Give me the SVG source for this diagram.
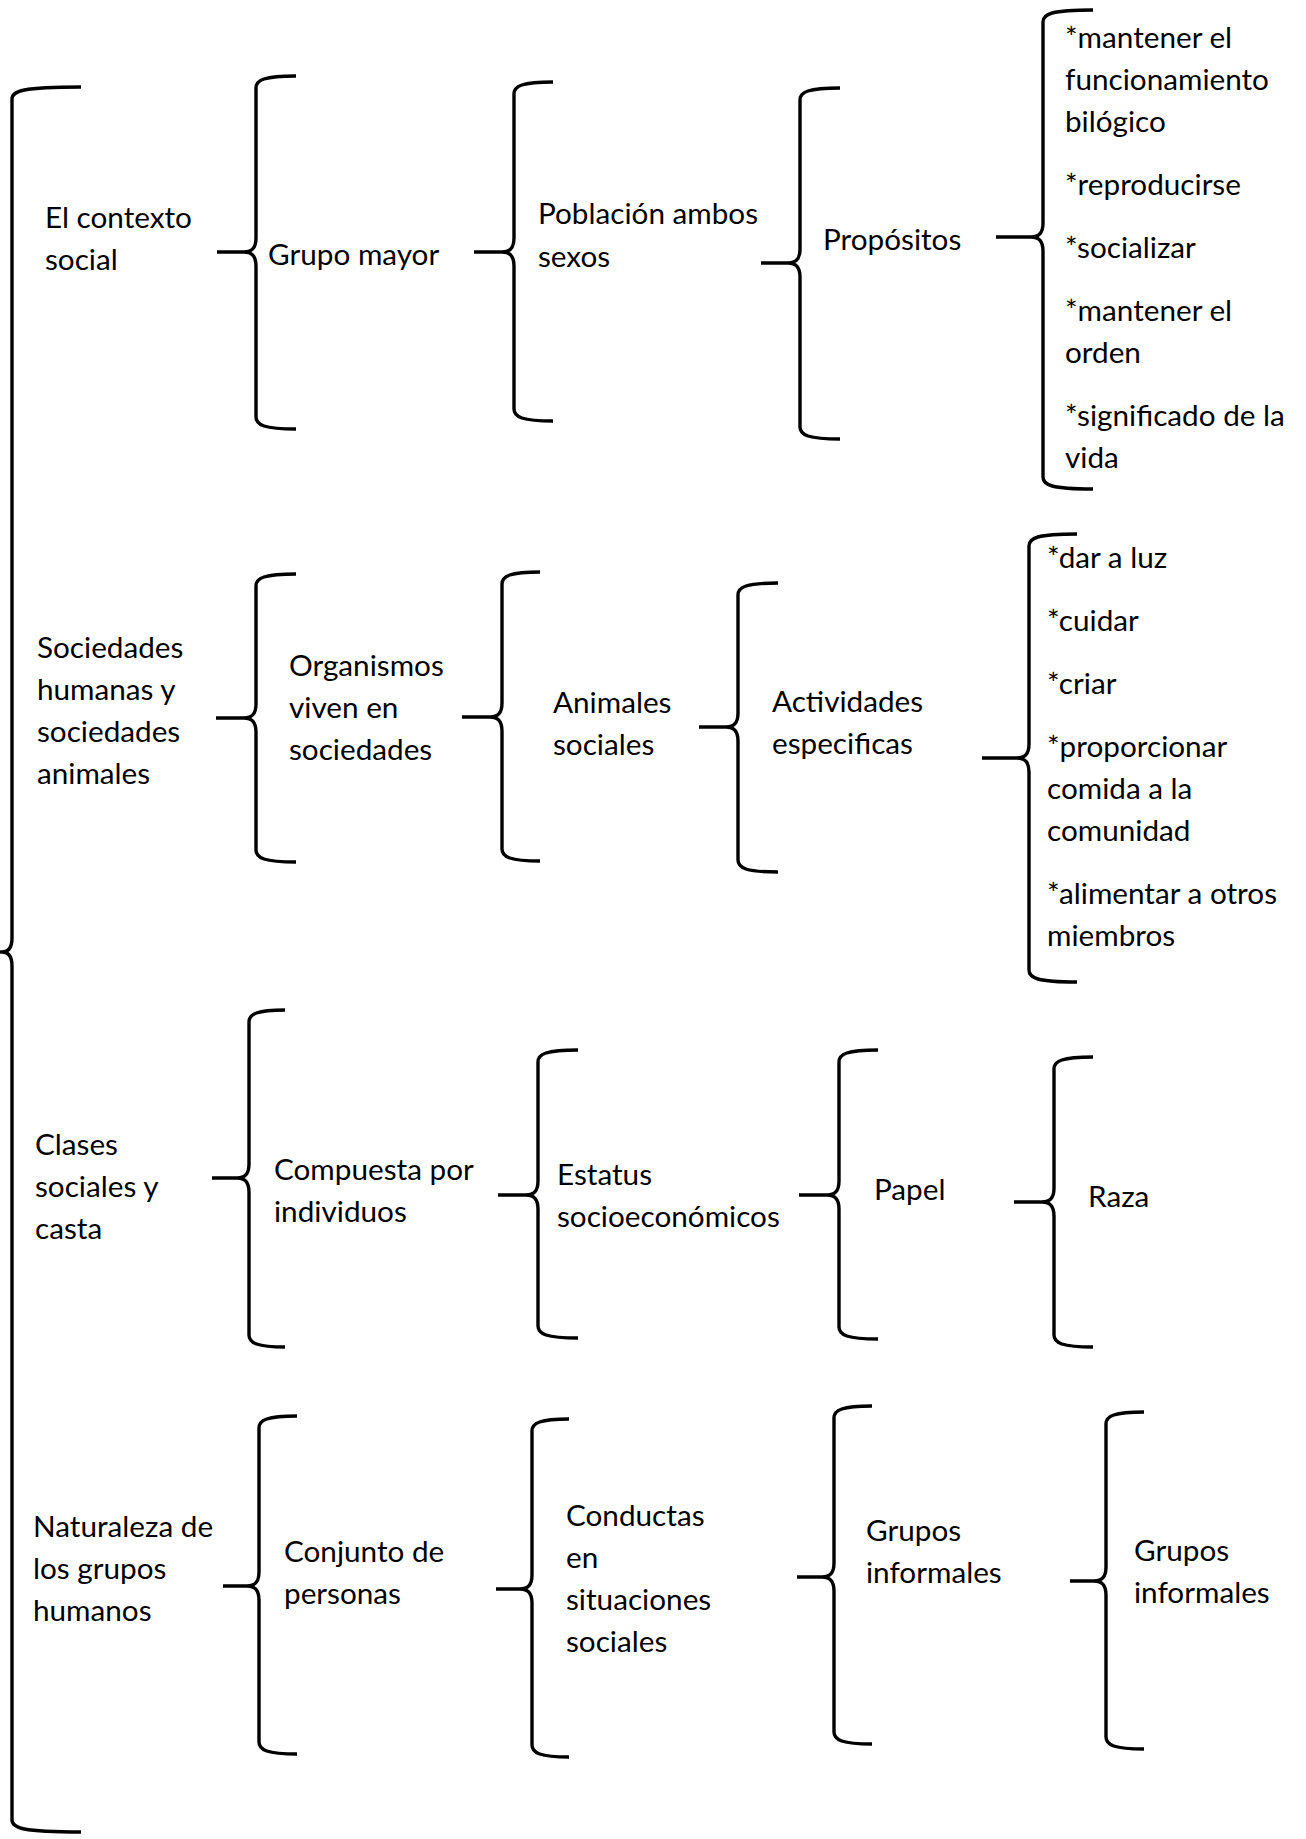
<svg xmlns="http://www.w3.org/2000/svg" width="1306" height="1839" viewBox="0 0 1306 1839">
<style>
  .br { fill: none; stroke: #000; stroke-width: 3.4; stroke-linecap: butt; stroke-linejoin: round; }
  text { font-family: Lato, "Liberation Sans", sans-serif; font-size: 29.7px; fill: #000; }
</style>
<rect width="1306" height="1839" fill="#fff"/>
<g id="connectors">
  <path class="br" d="M0,952 L2,952 C8,952 12,948 12,938 L12,99 C12,91 22,87 81,87 M2,952 C8,952 12,956 12,966 L12,1820 C12,1828 22,1832 81,1832"/>
  <path class="br" d="M217,252 L244,252 C252,252 256,248 256,238 L256,88 C256,80 264,76 296,76 M244,252 C252,252 256,256 256,266 L256,417 C256,425 264,429 296,429"/>
  <path class="br" d="M474,252 L502,252 C510,252 514,248 514,238 L514,94 C514,86 522,82 553,82 M502,252 C510,252 514,256 514,266 L514,409 C514,417 522,421 553,421"/>
  <path class="br" d="M761,263 L788,263 C796,263 800,259 800,249 L800,100 C800,92 808,88 840,88 M788,263 C796,263 800,267 800,277 L800,427 C800,435 808,439 840,439"/>
  <path class="br" d="M996,237 L1031,237 C1039,237 1043,233 1043,223 L1043,22 C1043,14 1051,10 1093,10 M1031,237 C1039,237 1043,241 1043,251 L1043,477 C1043,485 1051,489 1093,489"/>
  <path class="br" d="M216,718 L244,718 C252,718 256,714 256,704 L256,586 C256,578 264,574 296,574 M244,718 C252,718 256,722 256,732 L256,850 C256,858 264,862 296,862"/>
  <path class="br" d="M462,717 L490,717 C498,717 502,713 502,703 L502,584 C502,576 510,572 540,572 M490,717 C498,717 502,721 502,731 L502,849 C502,857 510,861 540,861"/>
  <path class="br" d="M699,727 L726,727 C734,727 738,723 738,713 L738,595 C738,587 746,583 778,583 M726,727 C734,727 738,731 738,741 L738,860 C738,868 746,872 778,872"/>
  <path class="br" d="M982,758 L1017,758 C1025,758 1029,754 1029,744 L1029,546 C1029,538 1037,534 1077,534 M1017,758 C1025,758 1029,762 1029,772 L1029,970 C1029,978 1037,982 1077,982"/>
  <path class="br" d="M212,1178 L237,1178 C245,1178 249,1174 249,1164 L249,1022 C249,1014 257,1010 285,1010 M237,1178 C245,1178 249,1182 249,1192 L249,1335 C249,1343 257,1347 285,1347"/>
  <path class="br" d="M498,1195 L526,1195 C534,1195 538,1191 538,1181 L538,1062 C538,1054 546,1050 578,1050 M526,1195 C534,1195 538,1199 538,1209 L538,1326 C538,1334 546,1338 578,1338"/>
  <path class="br" d="M799,1195 L827,1195 C835,1195 839,1191 839,1181 L839,1062 C839,1054 847,1050 878,1050 M827,1195 C835,1195 839,1199 839,1209 L839,1327 C839,1335 847,1339 878,1339"/>
  <path class="br" d="M1014,1202 L1042,1202 C1050,1202 1054,1198 1054,1188 L1054,1069 C1054,1061 1062,1057 1093,1057 M1042,1202 C1050,1202 1054,1206 1054,1216 L1054,1335 C1054,1343 1062,1347 1093,1347"/>
  <path class="br" d="M223,1586 L247,1586 C255,1586 259,1582 259,1572 L259,1428 C259,1420 267,1416 297,1416 M247,1586 C255,1586 259,1590 259,1600 L259,1742 C259,1750 267,1754 297,1754"/>
  <path class="br" d="M496,1589 L520,1589 C528,1589 532,1585 532,1575 L532,1431 C532,1423 540,1419 569,1419 M520,1589 C528,1589 532,1593 532,1603 L532,1745 C532,1753 540,1757 569,1757"/>
  <path class="br" d="M797,1577 L822,1577 C830,1577 834,1573 834,1563 L834,1418 C834,1410 842,1406 872,1406 M822,1577 C830,1577 834,1581 834,1591 L834,1732 C834,1740 842,1744 872,1744"/>
  <path class="br" d="M1070,1581 L1094,1581 C1102,1581 1106,1577 1106,1567 L1106,1424 C1106,1416 1114,1412 1144,1412 M1094,1581 C1102,1581 1106,1585 1106,1595 L1106,1737 C1106,1745 1114,1749 1144,1749"/>
</g>
<g id="n-contexto"><text x="45" y="228">El contexto</text><text x="45" y="270">social</text></g>
<g id="n-grupo-mayor"><text x="268" y="265">Grupo mayor</text></g>
<g id="n-poblacion"><text x="538" y="224">Población ambos</text><text x="538" y="267">sexos</text></g>
<g id="n-propositos"><text x="823" y="250">Propósitos</text></g>
<g id="n-propositos-lista">
  <text x="1065" y="48">*mantener el</text>
  <text x="1065" y="90">funcionamiento</text>
  <text x="1065" y="132">bilógico</text>
  <text x="1065" y="195">*reproducirse</text>
  <text x="1065" y="258">*socializar</text>
  <text x="1065" y="321">*mantener el</text>
  <text x="1065" y="363">orden</text>
  <text x="1065" y="426">*significado de la</text>
  <text x="1065" y="468">vida</text>
</g>
<g id="n-sociedades"><text x="37" y="658">Sociedades</text><text x="37" y="700">humanas y</text><text x="37" y="742">sociedades</text><text x="37" y="784">animales</text></g>
<g id="n-organismos"><text x="289" y="676">Organismos</text><text x="289" y="718">viven en</text><text x="289" y="760">sociedades</text></g>
<g id="n-animales"><text x="553" y="713">Animales</text><text x="553" y="755">sociales</text></g>
<g id="n-actividades"><text x="772" y="712">Actividades</text><text x="772" y="754">especificas</text></g>
<g id="n-actividades-lista">
  <text x="1047" y="568">*dar a luz</text>
  <text x="1047" y="631">*cuidar</text>
  <text x="1047" y="694">*criar</text>
  <text x="1047" y="757">*proporcionar</text>
  <text x="1047" y="799">comida a la</text>
  <text x="1047" y="841">comunidad</text>
  <text x="1047" y="904">*alimentar a otros</text>
  <text x="1047" y="946">miembros</text>
</g>
<g id="n-clases"><text x="35" y="1155">Clases</text><text x="35" y="1197">sociales y</text><text x="35" y="1239">casta</text></g>
<g id="n-compuesta"><text x="274" y="1180">Compuesta por</text><text x="274" y="1222">individuos</text></g>
<g id="n-estatus"><text x="557" y="1185">Estatus</text><text x="557" y="1227">socioeconómicos</text></g>
<g id="n-papel"><text x="874" y="1200">Papel</text></g>
<g id="n-raza"><text x="1088" y="1207">Raza</text></g>
<g id="n-naturaleza"><text x="33" y="1537">Naturaleza de</text><text x="33" y="1579">los grupos</text><text x="33" y="1621">humanos</text></g>
<g id="n-conjunto"><text x="284" y="1562">Conjunto de</text><text x="284" y="1604">personas</text></g>
<g id="n-conductas"><text x="566" y="1526">Conductas</text><text x="566" y="1568">en</text><text x="566" y="1610">situaciones</text><text x="566" y="1652">sociales</text></g>
<g id="n-grupos-informales-1"><text x="866" y="1541">Grupos</text><text x="866" y="1583">informales</text></g>
<g id="n-grupos-informales-2"><text x="1134" y="1561">Grupos</text><text x="1134" y="1603">informales</text></g>
</svg>
